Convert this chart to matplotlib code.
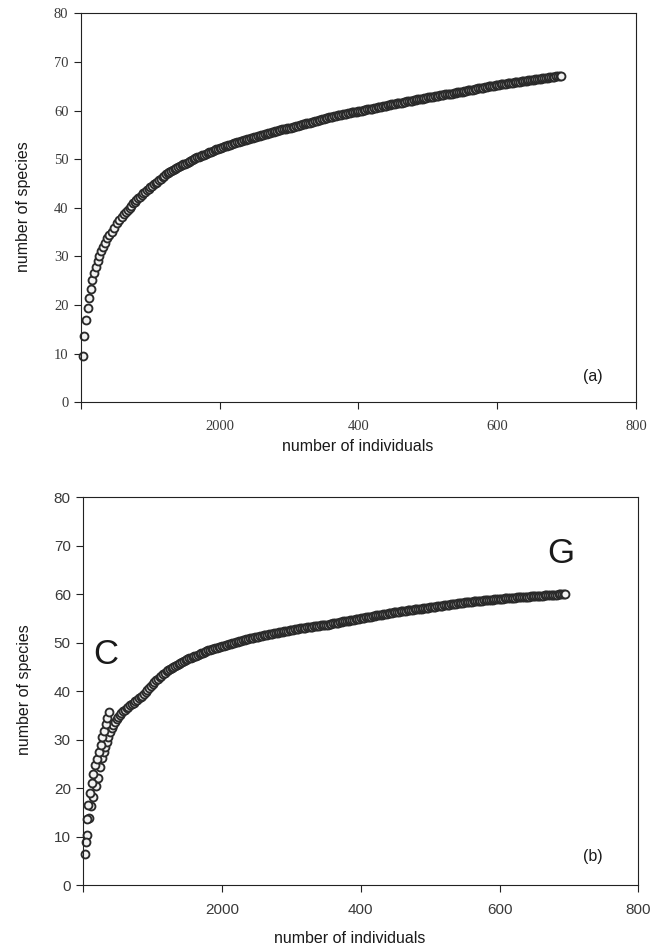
import numpy as np
import matplotlib
matplotlib.use("Agg")
import matplotlib.pyplot as plt

# ---------------- data ----------------
# panel (a): early, individually visible points
a_x_early = [2.4, 4.5, 6.7, 9.6, 11.8, 14.0, 16.3, 19.2, 21.4, 24.0, 26.4, 29.3,
             32.1, 34.6, 37.9, 40.8, 44.2, 48.0, 51.9, 55.2, 59.5]
a_y_early = [9.5, 13.6, 16.9, 19.3, 21.4, 23.3, 25.1, 26.6, 27.9, 29.1, 30.1, 31.2,
             32.0, 32.8, 33.7, 34.4, 35.1, 35.9, 36.8, 37.5, 38.2]
# panel (a): dense part, sample sizes 62.5 ... 692.5 in steps of 2.5
a_x_tail = np.arange(62.5, 692.6, 2.5)
a_y_tail = [
    38.8, 39.2, 39.6, 40.0, 40.45, 40.9, 41.25, 41.6, 41.95, 42.3,
    42.65, 43.0, 43.3, 43.6, 43.9, 44.2, 44.5, 44.8, 45.1, 45.4,
    45.7, 46.0, 46.3, 46.6, 46.85, 47.1, 47.35, 47.6, 47.8, 48.0,
    48.2, 48.4, 48.6, 48.8, 48.95, 49.1, 49.3, 49.5, 49.65, 49.8,
    50.0, 50.2, 50.35, 50.5, 50.65, 50.8, 50.95, 51.1, 51.25, 51.4,
    51.55, 51.7, 51.85, 52.0, 52.1, 52.2, 52.35, 52.5, 52.65, 52.8,
    52.9, 53.0, 53.15, 53.3, 53.4, 53.5, 53.6, 53.7, 53.8, 53.9,
    54.0, 54.1, 54.2, 54.3, 54.4, 54.5, 54.6, 54.7, 54.8, 54.9,
    55.0, 55.1, 55.2, 55.3, 55.4, 55.5, 55.6, 55.7, 55.8, 55.9,
    56.0, 56.1, 56.2, 56.3, 56.35, 56.4, 56.5, 56.6, 56.7, 56.8,
    56.9, 57.0, 57.1, 57.2, 57.3, 57.4, 57.45, 57.5, 57.6, 57.7,
    57.8, 57.9, 58.0, 58.1, 58.2, 58.3, 58.4, 58.5, 58.6, 58.7,
    58.75, 58.8, 58.9, 59.0, 59.05, 59.1, 59.2, 59.3, 59.35, 59.4,
    59.5, 59.6, 59.65, 59.7, 59.8, 59.9, 59.95, 60.0, 60.1, 60.2,
    60.25, 60.3, 60.35, 60.4, 60.5, 60.6, 60.65, 60.7, 60.8, 60.9,
    60.95, 61.0, 61.1, 61.2, 61.25, 61.3, 61.4, 61.5, 61.55, 61.6,
    61.65, 61.7, 61.8, 61.9, 61.95, 62.0, 62.05, 62.1, 62.2, 62.3,
    62.35, 62.4, 62.45, 62.5, 62.6, 62.7, 62.75, 62.8, 62.85, 62.9,
    62.95, 63.0, 63.1, 63.2, 63.25, 63.3, 63.35, 63.4, 63.45, 63.5,
    63.6, 63.7, 63.75, 63.8, 63.85, 63.9, 64.0, 64.1, 64.15, 64.2,
    64.25, 64.3, 64.4, 64.5, 64.55, 64.6, 64.65, 64.7, 64.8, 64.9,
    64.95, 65.0, 65.05, 65.1, 65.15, 65.2, 65.3, 65.4, 65.45, 65.5,
    65.55, 65.6, 65.65, 65.7, 65.75, 65.8, 65.85, 65.9, 65.95, 66.0,
    66.05, 66.1, 66.15, 66.2, 66.25, 66.3, 66.35, 66.4, 66.45, 66.5,
    66.55, 66.6, 66.65, 66.7, 66.75, 66.8, 66.85, 66.9, 66.95, 67.0,
    67.0, 67.05, 67.1]

# panel (b): curve G, early points
g_x_early = [2.4, 5.8, 8.6, 10.6, 14.4, 17.8, 21.6, 24.0, 27.0, 29.2, 31.3, 33.7,
             36.0, 38.5, 40.9, 43.3, 45.7, 48.0, 50.0, 52.5, 55.0, 57.5, 60.0]
g_y_early = [6.5, 10.3, 13.8, 16.3, 18.2, 20.4, 22.0, 24.4, 26.3, 27.4, 28.5, 29.6,
             30.6, 31.5, 32.3, 33.0, 33.7, 34.2, 34.6, 35.0, 35.5, 35.9, 36.2]
# panel (b): curve G, dense part, 62.5 ... 695 in steps of 2.5
g_x_tail = np.arange(62.5, 695.1, 2.5)
g_y_tail = [
    36.5, 36.8, 37.1, 37.4, 37.65, 37.9, 38.2, 38.5, 38.8, 39.1,
    39.5, 39.9, 40.25, 40.6, 41.05, 41.5, 41.85, 42.2, 42.55, 42.9,
    43.2, 43.5, 43.8, 44.1, 44.35, 44.6, 44.8, 45.0, 45.2, 45.4,
    45.6, 45.8, 46.0, 46.2, 46.4, 46.6, 46.75, 46.9, 47.05, 47.2,
    47.35, 47.5, 47.65, 47.8, 47.95, 48.1, 48.25, 48.4, 48.5, 48.6,
    48.75, 48.9, 49.0, 49.1, 49.2, 49.3, 49.4, 49.5, 49.6, 49.7,
    49.8, 49.9, 50.0, 50.1, 50.2, 50.3, 50.4, 50.5, 50.6, 50.7,
    50.8, 50.9, 50.95, 51.0, 51.1, 51.2, 51.25, 51.3, 51.4, 51.5,
    51.55, 51.6, 51.7, 51.8, 51.85, 51.9, 52.0, 52.1, 52.15, 52.2,
    52.3, 52.4, 52.45, 52.5, 52.55, 52.6, 52.7, 52.8, 52.85, 52.9,
    52.95, 53.0, 53.05, 53.1, 53.15, 53.2, 53.25, 53.3, 53.35, 53.4,
    53.45, 53.5, 53.55, 53.6, 53.65, 53.7, 53.75, 53.8, 53.9, 54.0,
    54.05, 54.1, 54.15, 54.2, 54.3, 54.4, 54.45, 54.5, 54.55, 54.6,
    54.65, 54.7, 54.8, 54.9, 54.95, 55.0, 55.05, 55.1, 55.2, 55.3,
    55.35, 55.4, 55.5, 55.6, 55.65, 55.7, 55.75, 55.8, 55.85, 55.9,
    56.0, 56.1, 56.15, 56.2, 56.25, 56.3, 56.35, 56.4, 56.45, 56.5,
    56.55, 56.6, 56.65, 56.7, 56.75, 56.8, 56.85, 56.9, 56.95, 57.0,
    57.05, 57.1, 57.15, 57.2, 57.25, 57.3, 57.35, 57.4, 57.45, 57.5,
    57.55, 57.6, 57.65, 57.7, 57.75, 57.8, 57.85, 57.9, 57.95, 58.0,
    58.05, 58.1, 58.15, 58.2, 58.25, 58.3, 58.35, 58.4, 58.4, 58.45,
    58.5, 58.55, 58.6, 58.65, 58.7, 58.7, 58.75, 58.8, 58.8, 58.85,
    58.9, 58.9, 58.95, 59.0, 59.0, 59.05, 59.1, 59.1, 59.15, 59.15,
    59.2, 59.2, 59.25, 59.3, 59.3, 59.35, 59.35, 59.4, 59.4, 59.45,
    59.45, 59.5, 59.5, 59.55, 59.55, 59.6, 59.6, 59.65, 59.65, 59.7,
    59.7, 59.75, 59.75, 59.8, 59.8, 59.85, 59.85, 59.9, 59.9, 59.95,
    59.95, 60.0, 60.0, 60.05]

# panel (b): curve C
c_x = [3.5, 6.0, 7.2, 9.7, 12.1, 14.4, 16.9, 19.3, 22.6, 25.0, 27.4, 29.8, 32.7,
       34.6, 37.5]
c_y = [8.9, 13.6, 16.5, 18.9, 21.0, 22.9, 24.8, 26.1, 27.5, 28.9, 30.5, 31.8, 33.2,
       34.4, 35.8]

x_ticks = [0, 200, 400, 600, 800]
x_tick_labels = ["", "2000", "400", "600", "800"]
y_ticks = [0, 10, 20, 30, 40, 50, 60, 70, 80]
y_tick_labels = ["0", "10", "20", "30", "40", "50", "60", "70", "80"]

# ---------------- figure ----------------
fig = plt.figure(figsize=(6.59, 9.49), dpi=100)
ax1 = fig.add_axes([0.1229, 0.5761, 0.8422, 0.4099])
ax2 = fig.add_axes([0.1264, 0.0674, 0.8422, 0.4086])

SANS = ["Liberation Sans", "DejaVu Sans"]
SERIF = ["Liberation Serif", "DejaVu Serif"]
edge = "#2a2a2a"
face = "#f2f2f2"
ms = 5.7
mew = 1.35


def style(ax, tick_family, tick_size):
    ax.set_xlim(0, 800)
    ax.set_ylim(0, 80)
    ax.set_xticks(x_ticks)
    ax.set_xticklabels(x_tick_labels)
    ax.set_yticks(y_ticks)
    ax.set_yticklabels(y_tick_labels)
    for s in ax.spines.values():
        s.set_color("#222222")
        s.set_linewidth(0.8)
    ax.tick_params(axis="both", which="both", direction="out", length=5,
                   width=0.8, color="#222222", top=False, right=False,
                   labelcolor="#3a3a3a", labelsize=tick_size)
    ax.tick_params(axis="x", pad=8)
    ax.tick_params(axis="y", pad=4)
    for lab in ax.get_xticklabels() + ax.get_yticklabels():
        lab.set_family(tick_family)


def dots(ax, x, y):
    ax.plot(x, y, linestyle="none", marker="o", markersize=ms,
            markerfacecolor=face, markeredgecolor=edge, markeredgewidth=mew,
            clip_on=False)


# panel (a)
style(ax1, SERIF, 10.5)
dots(ax1, list(a_x_early) + list(a_x_tail), a_y_early + a_y_tail)
ax1.set_xlabel("number of individuals", family=SANS, fontsize=11.5, color="#1a1a1a")
ax1.set_ylabel("number of species", family=SANS, fontsize=11.5, color="#1a1a1a")
ax1.xaxis.set_label_coords(0.499, -0.095)
ax1.yaxis.set_label_coords(-0.090, 0.502)
ax1.text(738, 5.3, "(a)", family=SANS, fontsize=11.5, color="#1a1a1a",
         ha="center", va="center")

# panel (b)
style(ax2, SANS, 11)
dots(ax2, list(g_x_early) + list(g_x_tail), g_y_early + g_y_tail)
dots(ax2, c_x, c_y)
ax2.set_xlabel("number of individuals", family=SANS, fontsize=11.5, color="#1a1a1a")
ax2.set_ylabel("number of species", family=SANS, fontsize=11.5, color="#1a1a1a")
ax2.xaxis.set_label_coords(0.48, -0.118)
ax2.yaxis.set_label_coords(-0.092, 0.503)
ax2.text(735, 5.8, "(b)", family=SANS, fontsize=11.5, color="#1a1a1a",
         ha="center", va="center")
ax2.text(32.7, 47.5, "C", family=SANS, fontsize=25, color="#1a1a1a",
         ha="center", va="center")
ax2.text(688, 68.3, "G", family=SANS, fontsize=25, color="#1a1a1a",
         ha="center", va="center")

fig.savefig("out.png", dpi=100)
